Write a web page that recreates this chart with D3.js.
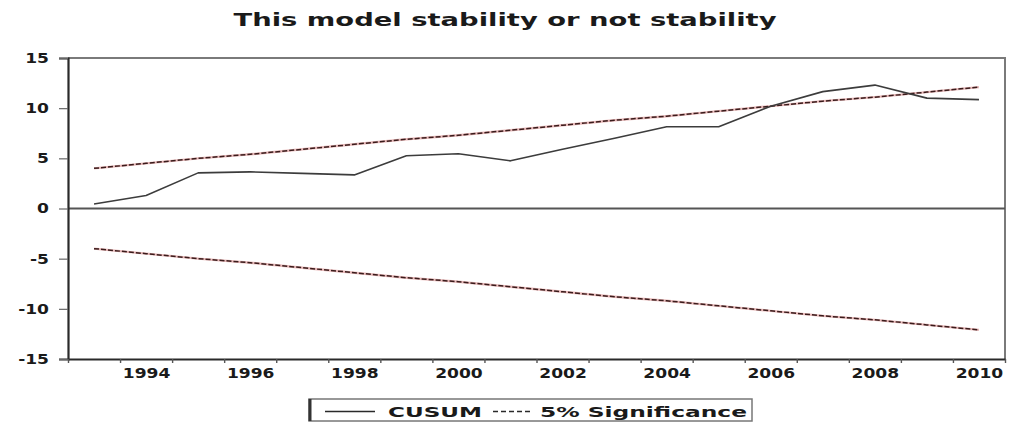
<!DOCTYPE html>
<html>
<head>
<meta charset="utf-8">
<script src="https://cdn.jsdelivr.net/npm/d3@7"></script>
<style>
  html, body { margin: 0; padding: 0; background: #fff; }
  svg { display: block; }
  text { font-family: "DejaVu Sans", Verdana, sans-serif; font-weight: bold; fill: #1a1a1a; }
</style>
</head>
<body>
<svg id="chart" width="1013" height="425"></svg>
<script>
// Years of the recursive residual series
const years = [1993, 1994, 1995, 1996, 1997, 1998, 1999, 2000, 2001,
               2002, 2003, 2004, 2005, 2006, 2007, 2008, 2009, 2010];

// CUSUM statistic
const cusum = [0.45, 1.3, 3.55, 3.65, 3.5, 3.35, 5.25, 5.45, 4.75,
               5.9, 7.0, 8.15, 8.15, 10.2, 11.65, 12.3, 11.0, 10.85];

// 5% significance bounds
const upperBound = [4.0, 4.5, 5.0, 5.4, 5.9, 6.4, 6.9, 7.3, 7.8,
                    8.3, 8.8, 9.2, 9.7, 10.2, 10.7, 11.1, 11.6, 12.1];
const lowerBound = [-4.0, -4.5, -5.0, -5.4, -5.9, -6.4, -6.9, -7.3, -7.8,
                    -8.3, -8.8, -9.2, -9.7, -10.2, -10.7, -11.1, -11.6, -12.1];

// Axis ticks
const yTicks = [15, 10, 5, 0, -5, -10, -15];
const xLabelYears = [1994, 1996, 1998, 2000, 2002, 2004, 2006, 2008, 2010];

const title = "This model stability or not stability";
const legendLabels = ["CUSUM", "5% Significance"];

const svg = d3.select("#chart");
const plotLeft = 68, plotRight = 1005, plotTop = 58, plotBottom = 359;
const stretch = 1.22;   // wide lettering

// stretch a text node horizontally while keeping it real text
function widen(sel, factor) {
  sel.each(function () {
    const w = this.getComputedTextLength();
    d3.select(this).attr("textLength", w * factor).attr("lengthAdjust", "spacingAndGlyphs");
  });
}
function fitWidth(sel, width) {
  sel.attr("textLength", width).attr("lengthAdjust", "spacingAndGlyphs");
}

const x = d3.scaleLinear()
  .domain([years[0] - 0.5, years[years.length - 1] + 0.5])
  .range([plotLeft, plotRight]);
const y = d3.scaleLinear().domain([-15, 15]).range([plotBottom, plotTop]);

// Title
svg.append("text")
  .attr("x", 505).attr("y", 26)
  .attr("text-anchor", "middle")
  .style("font-size", "18px")
  .text(title)
  .call(fitWidth, 543);

// Frame: top and right in grey
svg.append("path")
  .attr("d", `M${plotLeft},${plotTop}H${plotRight}V${plotBottom}`)
  .attr("fill", "none").attr("stroke", "#7a7a7a").attr("stroke-width", 2);

// Zero line
svg.append("line")
  .attr("x1", plotLeft).attr("x2", plotRight)
  .attr("y1", y(0)).attr("y2", y(0))
  .attr("stroke", "#555").attr("stroke-width", 2);

// Y axis
const yAxis = svg.append("g")
  .attr("transform", `translate(${plotLeft},0)`)
  .call(d3.axisLeft(y).tickValues(yTicks).tickFormat(d => String(d)).tickSize(9).tickPadding(10));
yAxis.select(".domain").attr("stroke", "#2a2a2a").attr("stroke-width", 2.2);
yAxis.selectAll(".tick line").attr("stroke", "#666").attr("stroke-width", 1.2);
yAxis.selectAll("text").style("font-size", "14px").attr("fill", "#1a1a1a")
  .call(widen, stretch);

// X axis: ticks on period boundaries
const boundaries = d3.range(years[0] - 0.5, years[years.length - 1] + 1, 1);
const xTickAxis = svg.append("g")
  .attr("transform", `translate(0,${plotBottom})`)
  .call(d3.axisBottom(x).tickValues(boundaries).tickFormat("").tickSize(4).tickSizeOuter(0));
xTickAxis.select(".domain").attr("stroke", "#2a2a2a").attr("stroke-width", 2.2);
xTickAxis.selectAll(".tick line").attr("stroke", "#555").attr("stroke-width", 1.4);

// X axis labels centred on their years
const xLabelAxis = svg.append("g")
  .attr("transform", `translate(0,${plotBottom})`)
  .call(d3.axisBottom(x).tickValues(xLabelYears).tickFormat(d3.format("d")).tickSize(0).tickPadding(9));
xLabelAxis.select(".domain").remove();
xLabelAxis.selectAll("text").style("font-size", "14px").attr("fill", "#1a1a1a")
  .call(widen, stretch);

// Series
const line = d3.line().x((d, i) => x(years[i])).y(d => y(d));

function drawBound(values) {
  svg.append("path").datum(values)
    .attr("d", line).attr("fill", "none")
    .attr("stroke", "#d98a8a").attr("stroke-width", 2.4).attr("opacity", 0.6);
  svg.append("path").datum(values)
    .attr("d", line).attr("fill", "none")
    .attr("stroke", "#3a1c1c").attr("stroke-width", 1.5)
    .attr("stroke-dasharray", "5,2");
}
drawBound(upperBound);
drawBound(lowerBound);

svg.append("path").datum(cusum)
  .attr("d", line).attr("fill", "none")
  .attr("stroke", "#3c3c3c").attr("stroke-width", 1.6)
  .attr("stroke-linejoin", "round");

// Legend
const lg = svg.append("g");
lg.append("rect")
  .attr("x", 309).attr("y", 399).attr("width", 443).attr("height", 22)
  .attr("fill", "#fff").attr("stroke", "#777").attr("stroke-width", 1.5);
lg.append("line")
  .attr("x1", 310).attr("x2", 310).attr("y1", 399).attr("y2", 421)
  .attr("stroke", "#333").attr("stroke-width", 3);
lg.append("line")
  .attr("x1", 325).attr("x2", 375).attr("y1", 411.5).attr("y2", 411.5)
  .attr("stroke", "#2a2a2a").attr("stroke-width", 1.6);
lg.append("text")
  .attr("x", 388).attr("y", 416.5)
  .style("font-size", "14px")
  .text(legendLabels[0])
  .call(fitWidth, 94);
lg.append("line")
  .attr("x1", 493).attr("x2", 533).attr("y1", 411.5).attr("y2", 411.5)
  .attr("stroke", "#2a2a2a").attr("stroke-width", 1.6)
  .attr("stroke-dasharray", "5,3");
lg.append("text")
  .attr("x", 540).attr("y", 416.5)
  .style("font-size", "14px")
  .text(legendLabels[1])
  .call(fitWidth, 207);
</script>
</body>
</html>
